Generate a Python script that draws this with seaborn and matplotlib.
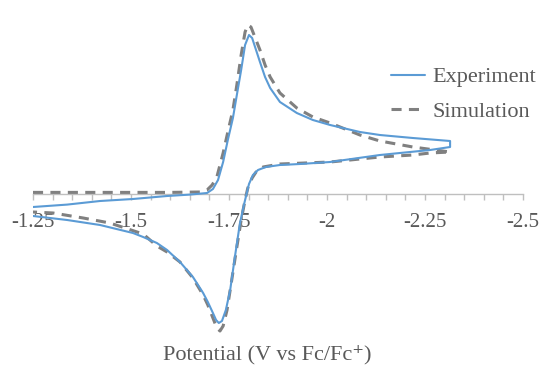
import numpy as np
import pandas as pd
import matplotlib
matplotlib.use("Agg")
import matplotlib.pyplot as plt
import seaborn as sns

# Cyclic voltammogram: potential (V vs Fc/Fc+) and current (µA)
exp_potential = [
    -1.250, -1.337, -1.421, -1.505, -1.592, -1.650, -1.694, -1.709, -1.722, -1.735,
    -1.747, -1.760, -1.770, -1.781, -1.791, -1.801, -1.809, -1.819, -1.829, -1.842,
    -1.855, -1.880, -1.923, -1.964, -2.008, -2.084, -2.135, -2.219, -2.314,
    -2.314, -2.263, -2.135, -2.008, -1.931, -1.880, -1.844, -1.824, -1.811, -1.801,
    -1.796, -1.788, -1.778, -1.765, -1.753, -1.742, -1.732, -1.724, -1.717, -1.709,
    -1.696, -1.684, -1.658, -1.625, -1.592, -1.566, -1.531, -1.505, -1.421, -1.337,
    -1.250,
]
exp_current = [
    -0.65, -0.53, -0.35, -0.25, -0.10, -0.03, 0.05, 0.25, 0.70, 1.60,
    2.70, 3.80, 4.95, 6.20, 7.45, 7.95, 7.80, 7.20, 6.60, 5.85,
    5.30, 4.60, 4.05, 3.70, 3.45, 3.10, 2.95, 2.80, 2.65,
    2.35, 2.20, 1.95, 1.60, 1.50, 1.45, 1.35, 1.20, 0.95, 0.50,
    0.10, -0.55, -1.45, -3.15, -4.80, -5.80, -6.35, -6.45, -6.30, -5.95,
    -5.40, -4.95, -4.15, -3.40, -2.80, -2.45, -2.15, -1.95, -1.55, -1.30,
    -1.10,
]

sim_potential = [
    -1.250, -1.421, -1.600, -1.676, -1.694, -1.707, -1.719, -1.735, -1.747, -1.760,
    -1.770, -1.781, -1.791, -1.798, -1.806, -1.814, -1.829, -1.842, -1.855, -1.880,
    -1.923, -1.964, -2.008, -2.084, -2.135, -2.219, -2.314,
    -2.263, -2.219, -2.135, -2.008, -1.880, -1.837, -1.819, -1.809, -1.798, -1.791,
    -1.781, -1.768, -1.755, -1.745, -1.735, -1.727, -1.719, -1.709, -1.696, -1.684,
    -1.658, -1.625, -1.592, -1.566, -1.531, -1.446, -1.378, -1.301, -1.250,
]
sim_current = [
    0.08, 0.08, 0.08, 0.10, 0.20, 0.45, 0.85, 2.05, 3.10, 4.20,
    5.45, 6.95, 8.10, 8.45, 8.35, 7.95, 7.20, 6.45, 5.85, 5.05,
    4.30, 3.85, 3.55, 2.95, 2.65, 2.35, 2.10,
    2.05, 1.95, 1.85, 1.60, 1.50, 1.35, 1.10, 0.80, 0.30, -0.30,
    -1.30, -2.90, -4.55, -5.80, -6.60, -6.85, -6.70, -6.20, -5.55, -5.05,
    -4.20, -3.40, -2.90, -2.60, -2.00, -1.45, -1.20, -0.95, -0.90,
]

tick_values = [-1.25, -1.5, -1.75, -2.0, -2.25, -2.5]
tick_labels = ["-1.25", "-1.5", "-1.75", "-2", "-2.25", "-2.5"]
series_names = ["Experiment", "Simulation"]

sns.set_style("white")
plt.rcParams["font.family"] = ["Liberation Serif", "DejaVu Serif"]

text_gray = "#595959"
axis_gray = "#bfbfbf"
blue = "#5b9bd5"
gray = "#808080"

fig = plt.figure(figsize=(5.45, 3.72), dpi=100)
ax = fig.add_axes([33 / 545, (372 - 340) / 372, 490 / 545, 330 / 372])

exp_df = pd.DataFrame({"potential": exp_potential, "current": exp_current})
sim_df = pd.DataFrame({"potential": sim_potential, "current": sim_current})

sns.lineplot(data=exp_df, x="potential", y="current", sort=False, estimator=None,
             color=blue, linewidth=1.5, label=series_names[0], ax=ax, zorder=4)
sns.lineplot(data=sim_df, x="potential", y="current", sort=False, estimator=None,
             color=gray, linewidth=2.2, label=series_names[1], ax=ax, zorder=3)
sim_line = ax.lines[-1]
sim_line.set_linestyle((0, (3.3, 2.4)))

ax.set_xlim(-1.25, -2.5)
ax.set_ylim((194 - 340) / 20, (194 - 10) / 20)

for side in ["left", "right", "top"]:
    ax.spines[side].set_visible(False)
ax.spines["bottom"].set_position(("data", 0))
ax.spines["bottom"].set_color(axis_gray)
ax.spines["bottom"].set_linewidth(1.0)

ax.set_yticks([])
ax.set_xticks(tick_values)
ax.set_xticklabels(tick_labels)
ax.xaxis.set_minor_locator(matplotlib.ticker.MultipleLocator(0.05))
ax.tick_params(axis="x", which="both", direction="out", length=4, width=1,
               color=axis_gray, labelsize=15, labelcolor=text_gray, pad=9.5,
               bottom=True)
ax.set_ylabel("")
ax.set_xlabel("Potential (V vs Fc/Fc\u207a)", fontsize=16, color=text_gray)
ax.xaxis.set_label_coords((267 - 33) / 490, -(355 - 340) / 330)
ax.xaxis.label.set_verticalalignment("center")

leg = ax.legend(loc="upper left", frameon=False, fontsize=16,
                labelcolor=text_gray, handlelength=1.55, handletextpad=0.3,
                labelspacing=0.62, borderaxespad=0.0)
# place legend in figure pixel coordinates
leg.set_bbox_to_anchor((382 / 545, 1 - 58 / 372), transform=fig.transFigure)

fig.savefig("out.png", dpi=100)
